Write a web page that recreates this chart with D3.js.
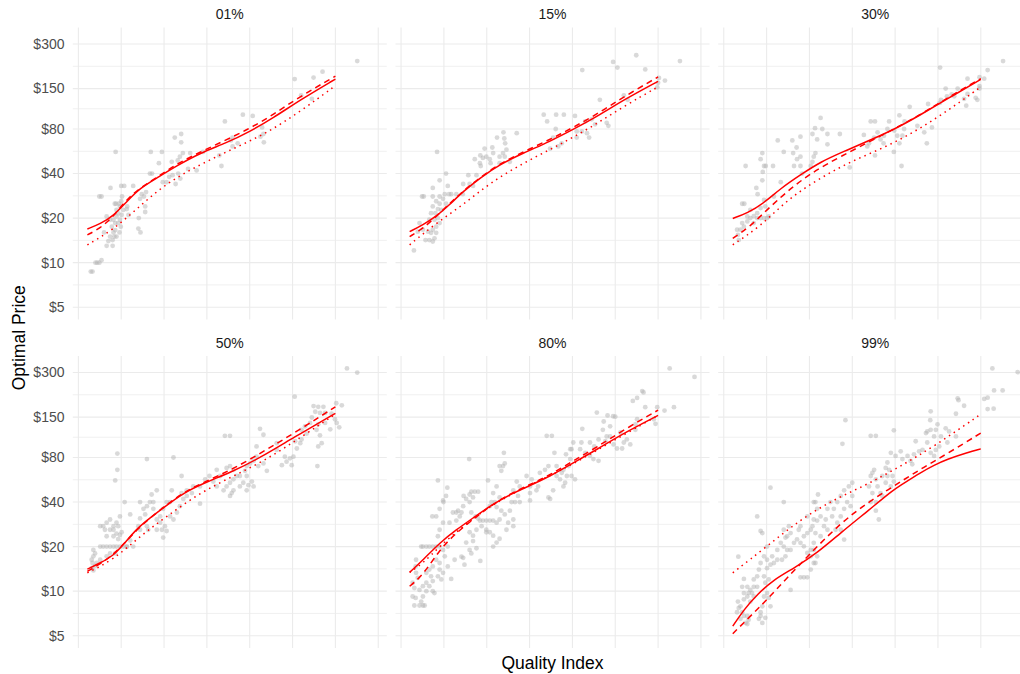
<!DOCTYPE html>
<html>
<head>
<meta charset="utf-8">
<script src="https://cdn.jsdelivr.net/npm/d3@7/dist/d3.min.js"></script>
<style>
  html, body { margin: 0; padding: 0; background: #fff; }
  svg { display: block; font-family: "Liberation Sans", Arial, Helvetica, sans-serif; }
</style>
</head>
<body>
<svg id="chart" width="1020" height="674"></svg>
<script>
// ---- facet labels and axis ticks ----
const facetLabels = ["01%", "15%", "30%", "50%", "80%", "99%"];
const priceTicks = [5, 10, 20, 40, 80, 150, 300];
const priceTickLabels = ["$5", "$10", "$20", "$40", "$80", "$150", "$300"];
const qualityGrid = [0, 1, 2, 3, 4, 5, 6, 7];

// ---- observed offers: [quality index, price] ----
const pts01 = [[6.51,230],[5.70,195],[5.05,174],[5.49,178],[5.20,135],[5.45,128],[3.42,90],[3.84,100],[4.07,98],[4.29,82],[4.32,74],[4.33,65],[4.25,71],[3.60,70],[3.56,67],[3.72,64],[3.60,61],[3.34,45],[2.25,70],[2.40,74],[2.40,65],[2.37,52],[2.44,55],[2.32,49],[2.18,48],[1.95,56],[1.69,56],[1.88,47],[1.67,40],[1.72,40],[1.97,35],[2.06,35],[2.12,38],[2.20,39],[2.27,34],[2.38,37],[2.33,40],[2.56,43],[2.76,42],[2.61,55],[2.91,56],[3.29,53],[0.87,56],[0.49,28],[0.54,28],[0.75,32],[1.00,33],[1.07,33],[1.28,33],[1.02,28],[1.00,26],[0.85,25],[0.88,25],[0.95,25],[0.97,24],[1.48,29],[1.58,30],[1.53,28],[1.56,24],[1.56,22],[1.44,27],[1.41,20],[1.40,17],[1.45,16],[1.14,24],[1.13,23],[1.17,21],[0.66,20.5],[0.74,19.5],[0.78,17.5],[0.82,16],[0.84,15],[0.89,15],[0.86,16.6],[0.93,18.5],[0.97,19.5],[1.01,21],[1.05,22.7],[0.80,14.2],[0.74,15],[0.70,14],[0.66,13],[0.80,13],[0.60,16],[0.96,16],[0.89,20.5],[0.99,17.5],[0.89,22.7],[0.93,21.5],[0.82,19.5],[0.86,18.5],[0.44,10],[0.40,10],[0.49,10],[0.54,10.4],[0.33,8.7],[0.29,8.7]];

const pts15 = [[6.51,230],[5.49,252],[4.95,227],[5.05,208],[5.70,202],[4.23,200],[6.16,170],[5.98,153],[6.00,164],[6.02,177],[4.64,126],[5.20,135],[5.29,126],[4.80,88],[4.84,84],[4.39,70],[4.45,93],[4.30,90],[4.10,77],[4.10,70],[4.22,77],[4.34,75],[4.53,86],[3.33,100],[3.41,90],[3.62,100],[3.80,100],[3.61,80],[4.06,98],[3.55,70],[3.75,64],[3.67,61],[3.48,59],[2.70,75],[2.39,76],[2.41,69],[2.43,64],[2.24,70],[2.46,58],[2.38,55],[2.30,52],[2.13,60],[2.15,55],[1.95,59],[1.99,52],[1.91,51],[1.85,53],[2.07,50],[1.86,45],[2.09,47],[2.30,47],[2.54,48],[2.42,52],[1.72,50],[1.84,47],[1.76,39],[1.57,39],[1.45,34],[1.60,34],[1.68,33],[1.44,29],[1.29,29],[1.17,29],[1.09,33],[1.02,29],[0.84,56],[1.05,40],[0.90,36],[0.49,28],[0.53,28],[0.74,32],[0.74,28],[0.90,28],[0.98,27],[1.05,25],[1.12,29],[0.82,26],[0.90,25],[0.74,24],[0.86,23],[0.94,22.7],[0.80,21.6],[0.70,21.6],[0.66,19.5],[0.78,19.5],[0.86,20],[0.90,18.5],[0.82,17.5],[0.74,16.7],[0.70,15.9],[0.82,15.9],[0.78,14.6],[0.66,14.2],[0.74,13.9],[0.57,14.2],[0.63,16.2],[0.43,18.5],[0.39,16.2],[0.51,16.7],[0.30,12.1]];

const pts30 = [[6.52,230],[5.05,208],[6.16,200],[6.08,175],[5.97,179],[5.97,156],[5.97,150],[5.92,126],[5.88,130],[5.69,175],[5.46,150],[5.18,150],[5.21,133],[5.69,138],[5.66,115],[5.61,128],[5.38,133],[5.32,137],[5.07,126],[5.04,120],[4.77,118],[4.86,82],[4.74,64],[4.68,76],[4.52,84],[4.34,113],[4.10,99],[4.22,90],[4.21,80],[4.17,72],[4.10,64],[4.05,72],[3.97,56],[4.15,45],[3.98,78],[3.86,90],[3.82,80],[3.74,72],[3.66,68],[3.73,64],[3.59,76],[3.51,70],[3.43,90],[3.53,90],[3.27,73],[3.35,61],[3.53,53],[3.39,64],[2.94,44],[2.71,74],[2.42,74],[2.42,63],[2.26,95],[2.13,81],[2.30,80],[2.07,74],[2.18,68],[2.14,55],[2.10,52],[2.07,48],[2.03,45],[1.79,71],[1.79,52],[1.71,50],[1.79,45],[1.64,45],[1.83,40],[1.60,67],[1.70,60],[1.62,55],[1.40,56],[1.26,67],[1.15,45],[0.98,45],[0.90,55],[0.91,41],[0.90,36],[0.94,45],[0.86,50],[0.76,32],[0.79,29],[0.51,45],[0.48,25],[0.43,25],[0.62,22.7],[0.70,20.6],[0.78,20],[0.86,20],[0.94,20],[1.01,20],[1.05,20.5],[0.62,20],[0.55,20.5],[0.78,21.6],[0.86,23.4],[0.94,26.5],[0.97,24],[0.55,19],[0.70,18.5],[0.47,17.5],[0.39,16.7],[0.33,15.4],[0.31,16.7],[0.35,14.2],[0.43,18.5],[1.17,28],[1.33,35]];

const pts50 = [[6.27,320],[6.51,300],[5.05,206],[6.02,186],[6.15,180],[5.49,178],[5.60,176],[5.72,176],[5.53,163],[5.64,160],[5.76,160],[5.91,158],[5.99,145],[6.03,137],[6.09,128],[5.88,124],[5.76,137],[5.60,134],[5.45,149],[5.41,137],[5.29,130],[5.21,123],[5.33,116],[5.56,123],[5.64,113],[5.68,100],[5.60,95],[5.58,70],[5.18,100],[5.21,106],[5.06,103],[5.10,92],[5.02,81],[4.94,79],[4.86,75],[4.82,81],[4.75,71],[4.98,71],[4.63,90],[4.63,100],[4.24,125],[4.32,114],[3.42,112],[3.54,112],[4.16,95],[4.16,81],[4.09,76],[4.20,70],[4.32,73],[4.40,65],[4.01,73],[3.93,70],[3.89,65],[3.77,60],[3.70,60],[3.62,57],[3.54,54],[3.85,54],[3.97,52],[4.09,51],[3.46,51],[3.58,46],[3.54,44],[3.62,48],[3.93,48],[4.05,55],[3.77,51],[3.93,60],[3.23,51],[3.39,48],[3.31,60],[3.23,66],[3.62,66],[3.46,68],[3.54,70],[3.06,60],[2.96,57],[2.84,51],[3.15,55],[2.68,51],[2.53,48],[2.53,44],[2.65,46],[2.84,39],[2.41,46],[2.45,42],[2.37,37.5],[2.30,34],[2.22,30.5],[2.14,32],[2.06,40],[2.14,40],[1.98,36],[1.91,32],[1.95,26],[1.83,30.5],[1.91,29],[2.02,27.5],[2.06,25.5],[1.83,26],[1.98,23],[2.18,48],[2.41,60],[2.22,80],[1.60,78],[1.71,45],[1.67,40],[1.75,40],[1.60,37.5],[1.52,36],[1.75,36],[1.44,31],[1.56,33],[1.60,27.5],[1.40,27.5],[1.44,26],[1.63,26],[1.44,40],[1.83,48],[1.08,40],[1.21,33],[1.28,20],[1.21,22],[1.13,20],[0.91,85],[0.91,66],[0.86,56],[0.82,27.5],[0.89,29],[0.97,32],[0.93,27.5],[0.82,26],[0.74,30.5],[0.66,29],[0.58,27.5],[0.51,27.5],[0.62,26],[0.74,26],[0.89,24.5],[1.01,25],[0.97,24],[0.51,20],[0.58,20],[0.66,20],[0.74,20],[0.82,20],[0.89,20],[0.97,20],[1.05,20],[1.13,20],[0.35,19],[0.39,18],[0.35,17.2],[0.31,16.3],[0.33,15.5],[0.39,14.8],[0.35,13.8],[0.31,14.3],[0.43,15.5],[0.51,16.3],[0.66,17.2],[0.74,18],[0.86,18],[0.82,23.5],[0.66,23.5],[0.93,22.5]];

const pts80 = [[6.27,320],[6.85,280],[5.63,225],[5.66,220],[5.41,193],[5.51,202],[5.70,175],[5.98,175],[6.15,166],[6.37,175],[5.94,135],[5.90,145],[4.95,152],[4.82,154],[5.00,151],[4.57,161],[4.73,140],[4.71,123],[4.88,130],[4.80,111],[4.77,103],[4.96,98],[5.04,92],[5.16,92],[5.20,101],[5.27,106],[5.35,98],[5.47,123],[5.51,145],[5.47,134],[5.12,118],[4.88,111],[4.61,106],[4.51,95],[4.41,101],[4.23,125],[4.21,101],[4.18,91],[4.30,86],[4.41,82],[4.49,78],[4.61,76],[4.02,101],[3.98,91],[3.95,78],[3.91,70],[3.98,60],[4.06,57],[3.79,66],[3.75,63],[3.83,54],[3.79,51],[3.87,60],[3.95,91],[3.85,84],[3.40,112],[3.52,112],[3.58,86],[3.44,70],[3.63,70],[3.63,60],[3.71,57],[3.55,48],[3.44,43],[3.48,42],[3.24,63],[3.36,66],[3.20,51],[3.16,48],[3.05,57],[3.01,51],[2.93,60],[3.01,46],[3.01,41],[2.70,55],[2.77,51],[2.62,48],[2.73,44],[2.77,40],[2.66,40],[2.58,40],[2.42,73],[2.38,70],[2.34,65],[2.40,86],[2.30,70],[2.23,51],[2.15,46],[2.30,43],[2.19,40],[2.11,40],[2.07,37.5],[2.23,37],[2.34,35],[2.42,33],[2.30,30.5],[2.23,29],[2.15,30],[2.07,30],[1.99,30],[1.91,30],[1.84,30],[1.99,26],[2.07,25],[2.15,23.7],[2.30,22.6],[2.23,21.3],[2.15,20],[1.99,25],[2.54,35],[2.62,30.5],[2.62,27.5],[2.46,26],[2.50,29],[2.03,56],[1.59,78],[1.72,47],[1.80,47],[1.64,47],[1.60,45],[1.68,43],[1.46,44],[1.52,42],[1.60,40],[1.45,37.5],[1.41,34],[1.33,35],[1.29,34],[1.21,34],[1.37,32],[1.13,29],[1.29,30],[1.64,34],[1.74,32],[1.80,31],[1.88,27.5],[1.76,26],[1.60,25],[1.68,23.7],[1.52,21.3],[1.60,19],[1.76,19.5],[1.68,21.8],[1.41,17.1],[1.48,15.1],[1.45,16.8],[1.64,18],[1.85,16],[0.86,56],[1.08,50],[0.98,41],[0.99,40],[1.05,44],[0.82,32],[0.90,36],[0.98,29],[0.90,26],[0.86,23.5],[0.73,32],[0.47,20],[0.51,20],[0.59,20],[0.66,20],[0.74,20],[0.82,20],[0.90,20],[0.98,19],[1.09,20],[1.02,17.2],[1.09,14.7],[1.25,16.3],[1.17,12.1],[0.82,16.3],[0.90,15.5],[0.90,14],[0.86,12.6],[0.98,13.3],[0.94,12],[0.74,14.7],[0.66,14],[0.59,13.3],[0.70,12.6],[0.74,11.7],[0.59,11.4],[0.51,10.8],[0.66,10.8],[0.74,10],[0.59,10],[0.78,9.7],[0.35,16.3],[0.34,14.7],[0.35,13.3],[0.39,12.3],[0.27,11.4],[0.31,10.5],[0.43,10.2],[0.27,9.2],[0.34,9.0],[0.51,9.2],[0.47,8.5],[0.31,8.0],[0.43,8.0],[0.51,8.0],[0.55,8.0]];

const pts99 = [[6.27,320],[6.86,302],[6.31,227],[6.51,227],[6.08,199],[6.16,203],[6.16,170],[6.30,171],[5.46,201],[5.48,195],[5.61,179],[5.42,158],[4.83,164],[4.82,143],[4.99,134],[4.95,123],[4.91,111],[4.83,123],[4.75,120],[4.72,117],[5.18,126],[5.26,120],[5.07,111],[5.22,101],[5.42,111],[5.03,95],[4.95,90],[4.91,82],[4.83,86],[4.75,101],[4.64,90],[4.56,88],[4.48,103],[4.44,84],[4.36,76],[4.29,82],[4.17,78],[4.40,72],[4.13,88],[4.01,82],[3.90,86],[3.82,74],[3.86,66],[3.94,60],[3.97,55],[3.78,68],[3.70,60],[3.82,60],[3.78,54],[3.90,51],[3.51,66],[3.47,63],[3.55,57],[3.59,51],[3.66,46],[3.70,44],[3.97,122],[3.43,112],[3.55,112],[3.43,60],[3.39,51],[3.47,46],[3.43,40],[3.55,40],[3.55,35],[3.62,30.5],[3.00,54],[2.92,51],[3.00,44],[2.81,48],[2.84,143],[2.77,99],[2.73,44],[2.88,40],[2.96,37.5],[2.81,36],[2.73,32],[2.65,29],[2.65,40],[2.57,36],[2.53,32],[2.61,26],[2.73,26],[2.81,22.3],[2.49,40],[2.42,36],[2.38,30.5],[2.34,27.5],[2.42,26],[2.26,23.5],[2.20,45],[2.14,40],[2.10,40],[2.18,36],[2.26,32],[2.18,30],[2.10,30.5],[2.07,27.5],[2.03,26],[1.95,24.7],[2.14,24.7],[2.10,21.2],[1.95,32],[1.79,27.5],[1.75,26],[1.87,23.5],[1.79,21.2],[1.71,22.4],[1.87,20.1],[1.95,18.1],[2.03,17.2],[2.10,15.5],[2.03,14],[1.95,12.4],[1.79,12.4],[1.87,12.4],[2.03,19],[2.10,19],[2.18,17.2],[2.14,15.5],[1.64,21.2],[1.56,19],[1.48,19],[1.40,20],[1.44,17.2],[1.36,16.3],[1.40,40],[1.09,50],[1.52,27.5],[1.56,24.7],[1.48,23.5],[1.33,21.2],[1.25,19],[1.25,16.3],[1.17,15.5],[1.09,15.1],[1.01,14.3],[1.13,17.2],[1.01,16.3],[1.56,10.2],[1.44,23],[1.40,26],[0.86,25.5],[0.90,24.7],[0.78,32],[1.01,20],[0.94,17.2],[0.86,15.5],[0.82,14],[0.78,12.6],[0.70,12],[0.78,10.7],[0.94,12.6],[0.97,11.4],[1.05,12],[1.01,9.7],[0.94,9.2],[1.05,9.0],[1.09,7.9],[0.90,7.9],[0.86,6.8],[0.82,6.5],[0.90,6.1],[0.86,7.2],[0.97,6.6],[0.70,10.7],[0.62,10.2],[0.58,9.7],[0.55,9.2],[0.47,8.8],[0.39,7.9],[0.35,7.7],[0.33,8.5],[0.43,7.2],[0.47,6.8],[0.55,6.8],[0.51,6.1],[0.55,6.0],[0.58,6.4],[0.62,8.5],[0.70,9.2],[0.66,9.7],[0.55,10.7],[0.47,9.7],[0.34,17.1],[0.47,12.1],[0.43,10.7],[0.31,7.2],[0.39,6.5]];

// ---- fitted price curves: [quality index, price] ----
const solid01 = [[0.21,16.9],[0.51,18.3],[0.82,20.7],[1.13,25.9],[1.44,31.9],[1.83,37.3],[2.30,45.2],[2.84,55],[3.46,64.5],[4.01,77],[4.55,95],[5.18,126],[6.0,174]];
const dashed01 = [[0.21,15.4],[0.51,17.1],[0.82,20.5],[1.13,26.9],[1.44,31.9],[1.83,37.6],[2.30,46.6],[2.84,55.8],[3.46,67.7],[4.01,81],[4.55,100],[5.18,133],[6.0,182]];
const dotted01 = [[0.21,13.2],[0.82,16.7],[1.44,24.2],[2.06,34.5],[2.84,46],[3.62,59],[4.40,75],[5.18,105],[6.0,157]];

const solid15 = [[0.2,16.2],[0.51,18],[0.82,20.5],[1.13,24.6],[1.45,30.3],[1.84,37.3],[2.30,46],[2.85,55],[3.48,66],[4.02,79.5],[4.65,100],[5.2,126],[6.0,168]];
const dashed15 = [[0.2,15.0],[0.51,17.0],[0.82,20.5],[1.13,25],[1.45,30.5],[1.84,37.6],[2.30,46.5],[2.85,56],[3.48,68],[4.02,82],[4.65,104],[5.2,132],[6.0,180]];
const dotted15 = [[0.2,13.2],[0.82,18.5],[1.45,24.6],[2.07,34.5],[2.85,47.1],[3.63,61.1],[4.41,81.2],[5.2,114],[6.0,154]];

const solid30 = [[0.21,19.9],[0.55,21.6],[0.94,25.3],[1.33,31.8],[1.79,39.2],[2.26,48],[2.81,56.5],[3.35,66],[3.98,79.4],[4.60,100],[5.22,128],[6.0,173]];
const dashed30 = [[0.21,14.6],[0.62,17.6],[1.01,22.8],[1.48,30.3],[2.03,40.3],[2.73,52.3],[3.66,71.6],[4.60,100],[5.22,130],[6.0,175]];
const dotted30 = [[0.21,13.2],[0.86,17.6],[1.48,26.6],[2.18,36.3],[2.96,48.3],[3.82,61],[4.60,81],[5.38,114],[6.0,154]];

const solid50 = [[0.21,14.1],[0.51,15.5],[0.82,17.4],[1.05,20.6],[1.36,26.4],[1.67,31.2],[1.98,36.5],[2.45,46.2],[2.99,54.6],[3.62,64.6],[4.24,79.6],[5.02,109],[6.0,159]];
const dashed50 = [[0.21,13.6],[0.82,17.2],[1.36,26.4],[1.98,36.8],[2.45,46.5],[2.99,55.5],[3.62,67],[4.40,90.6],[5.18,124],[6.0,176]];
const dotted50 = [[0.21,13.3],[0.82,16.3],[1.44,23.5],[2.06,32],[2.84,46.2],[3.62,60],[4.40,77.6],[5.18,109],[6.0,157]];

const solid80 = [[0.2,13.4],[0.52,16.3],[0.90,21.2],[1.29,26],[1.68,31.2],[2.07,37.5],[2.54,45],[3.01,51.7],[3.48,59.8],[4.02,73.6],[4.57,90.6],[5.20,117],[6.0,154]];
const dashed80 = [[0.2,10.8],[0.52,12.9],[0.90,19.1],[1.29,24.8],[1.68,30.5],[2.07,37.5],[2.54,45.5],[3.01,52.5],[3.48,61],[4.02,76],[4.57,94],[5.20,123],[6.0,167]];
const dotted80 = [[0.2,13.4],[0.52,15.5],[0.90,20.1],[1.45,27.5],[2.07,37.5],[2.85,49.9],[3.63,63],[4.41,84],[5.20,114],[6.0,154]];

const solid99 = [[0.21,5.8],[0.47,7.5],[0.78,9.5],[1.17,12],[1.64,14.3],[2.18,18.1],[2.73,24.8],[3.35,34.6],[3.97,48.6],[4.13,52],[4.6,63.5],[4.91,71],[5.22,78],[5.69,86.5],[6.0,91.5]];
const dashed99 = [[0.21,5.16],[0.62,6.77],[1.01,8.77],[1.48,12.3],[2.03,18.1],[2.73,28.9],[3.35,39.5],[3.97,51.3],[4.6,67],[5.22,85],[6.0,117]];
const dotted99 = [[0.21,13.3],[1.01,20.1],[1.79,30.5],[2.57,41.6],[3.35,52.5],[4.13,70],[4.91,95],[6.0,157]];

const facetPoints = [pts01, pts15, pts30, pts50, pts80, pts99];
const facetSolid = [solid01, solid15, solid30, solid50, solid80, solid99];
const facetDashed = [dashed01, dashed15, dashed30, dashed50, dashed80, dashed99];
const facetDotted = [dotted01, dotted15, dotted30, dotted50, dotted80, dotted99];

// ---- layout ----
const colLeft = [72.8, 395.5, 718.2];
const rowTop = [27.5, 356];
const panelW = 314, panelH = 292;

const svg = d3.select("#chart");

const x = d3.scaleLinear().domain([-0.13, 7.2]).range([0, panelW]);
const y = d3.scaleLog().domain([4.13, 388]).range([panelH, 0]);

// minor breaks sit halfway between major breaks on the log scale
const minorTicks = d3.pairs(priceTicks).map(([a, b]) => Math.sqrt(a * b));

const line = d3.line()
  .x(d => x(d[0]))
  .y(d => y(d[1]))
  .curve(d3.curveBasis);

facetLabels.forEach((label, i) => {
  const col = i % 3, row = Math.floor(i / 3);
  const g = svg.append("g")
    .attr("transform", `translate(${colLeft[col]},${rowTop[row]})`);

  // grid
  g.append("g").selectAll("line").data(minorTicks).join("line")
    .attr("x1", 0).attr("x2", panelW)
    .attr("y1", d => y(d)).attr("y2", d => y(d))
    .attr("stroke", "#eeeeee").attr("stroke-width", 0.9);
  g.append("g").selectAll("line").data(priceTicks).join("line")
    .attr("x1", 0).attr("x2", panelW)
    .attr("y1", d => y(d)).attr("y2", d => y(d))
    .attr("stroke", "#ebebeb").attr("stroke-width", 1.1);
  g.append("g").selectAll("line").data(qualityGrid).join("line")
    .attr("x1", d => x(d)).attr("x2", d => x(d))
    .attr("y1", 0).attr("y2", panelH)
    .attr("stroke", "#ebebeb").attr("stroke-width", 1.1);

  // strip title
  svg.append("text")
    .attr("x", colLeft[col] + panelW / 2)
    .attr("y", rowTop[row] - 8.2)
    .attr("text-anchor", "middle")
    .attr("font-size", 14)
    .attr("fill", "#1a1a1a")
    .text(label);

  // y tick labels on the left column
  if (col === 0) {
    svg.append("g").selectAll("text").data(priceTicks).join("text")
      .attr("x", 64.5)
      .attr("y", d => rowTop[row] + y(d))
      .attr("dy", "0.35em")
      .attr("text-anchor", "end")
      .attr("font-size", 14)
      .attr("fill", "#4d4d4d")
      .text((d, k) => priceTickLabels[k]);
  }

  // points
  g.append("g").selectAll("circle").data(facetPoints[i]).join("circle")
    .attr("cx", d => x(d[0]))
    .attr("cy", d => y(d[1]))
    .attr("r", 2.4)
    .attr("fill", "#b3b3b3")
    .attr("fill-opacity", 0.5);

  // fitted curves
  g.append("path").datum(facetDotted[i])
    .attr("d", line).attr("fill", "none")
    .attr("stroke", "#ff0000").attr("stroke-width", 1.5)
    .attr("stroke-dasharray", "1.5,4.2");
  g.append("path").datum(facetDashed[i])
    .attr("d", line).attr("fill", "none")
    .attr("stroke", "#ff0000").attr("stroke-width", 1.5)
    .attr("stroke-dasharray", "6,4.5");
  g.append("path").datum(facetSolid[i])
    .attr("d", line).attr("fill", "none")
    .attr("stroke", "#ff0000").attr("stroke-width", 1.5);
});

// axis titles
svg.append("text")
  .attr("x", (colLeft[0] + colLeft[2] + panelW) / 2)
  .attr("y", 669)
  .attr("text-anchor", "middle")
  .attr("font-size", 17.5)
  .attr("fill", "#000")
  .text("Quality Index");

svg.append("text")
  .attr("transform", `translate(24.5,${(rowTop[0] + rowTop[1] + panelH) / 2}) rotate(-90)`)
  .attr("text-anchor", "middle")
  .attr("font-size", 17.5)
  .attr("fill", "#000")
  .text("Optimal Price");
</script>
</body>
</html>
